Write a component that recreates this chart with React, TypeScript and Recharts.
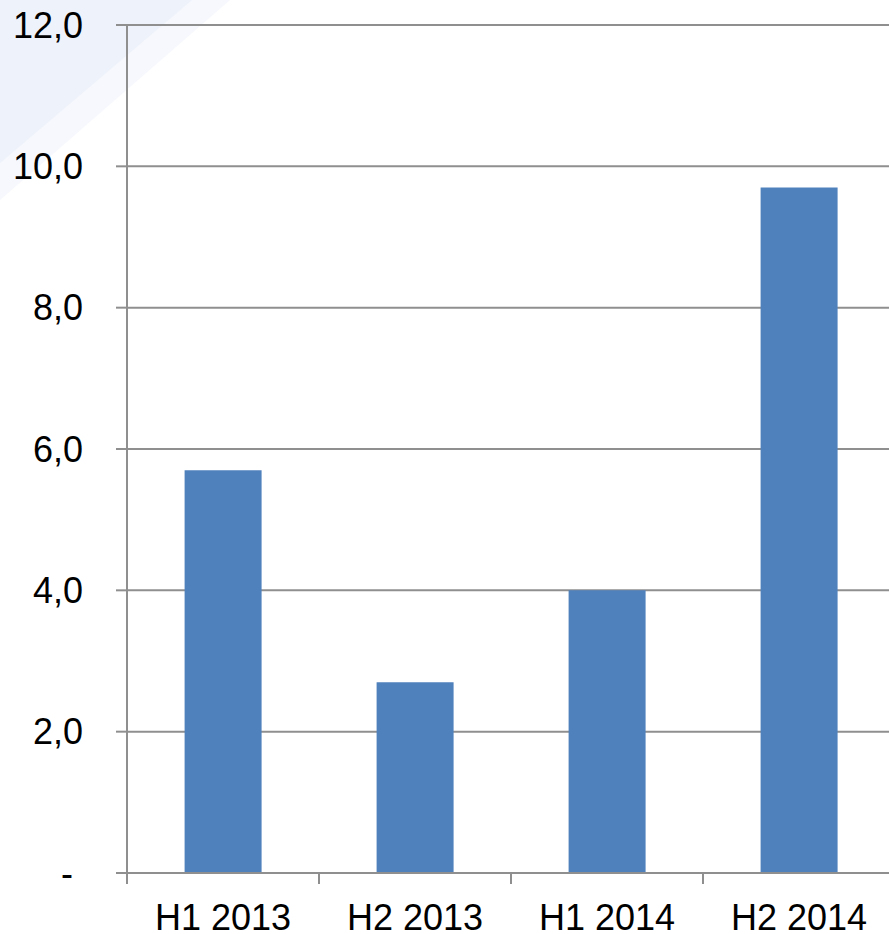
import { Bar, BarChart, CartesianGrid, XAxis, YAxis } from "recharts";

const periods = ["H1 2013", "H2 2013", "H1 2014", "H2 2014"];
const values = [5.7, 2.7, 4.0, 9.7];
const yTicks = [0, 2, 4, 6, 8, 10, 12];

const data = periods.map((period, i) => ({ period, value: values[i] }));

const FONT = "'Liberation Sans', Arial, sans-serif";
const GRID = "#8f8f8f";
const TICK_SIZE = 11;
const TICK_MARGIN = 20;

function fmt(v: number) {
  return v === 0 ? "-" : v.toFixed(1).replace(".", ",");
}

function YTick(props: any) {
  const { x, y, payload } = props;
  const v = payload.value as number;
  return (
    <text
      x={v === 0 ? x - 10 : x}
      y={y}
      dy="0.355em"
      textAnchor="end"
      fill="#000"
      fontSize={36}
      fontFamily={FONT}
    >
      {fmt(v)}
    </text>
  );
}

// Excel puts the category ticks on the boundaries, not the centres
function XTick(props: any) {
  const { x, y, payload, width } = props;
  const band = width / periods.length;
  const lx = x - band / 2;
  const top = y - TICK_MARGIN - TICK_SIZE;
  return (
    <g>
      <line x1={lx} x2={lx} y1={top} y2={top + TICK_SIZE} stroke={GRID} strokeWidth={2} />
      <text
        x={x}
        y={y}
        dy="0.71em"
        textAnchor="middle"
        fill="#000"
        fontSize={36}
        fontFamily={FONT}
      >
        {payload.value}
      </text>
    </g>
  );
}

export default function App() {
  return (
    <div
      style={{
        position: "absolute",
        left: 0,
        top: 0,
        width: 889,
        height: 934,
        overflow: "hidden",
        background: "#fff",
      }}
    >
      <svg width={889} height={934} style={{ position: "absolute", left: 0, top: 0 }}>
        <polygon points="0,0 230,0 0,200" fill="#f6f8fd" />
        <polygon points="0,0 192,0 0,163" fill="#eef2fa" />
      </svg>
      <div style={{ position: "absolute", left: 0, top: 0 }}>
        <BarChart
          width={900}
          height={934}
          data={data}
          margin={{ top: 25, right: 5, left: 0, bottom: 0 }}
          barCategoryGap="30%"
        >
          <CartesianGrid vertical={false} stroke={GRID} strokeWidth={2} />
          <XAxis
            dataKey="period"
            height={61}
            tickLine={false}
            tickSize={TICK_SIZE}
            tickMargin={TICK_MARGIN}
            axisLine={{ stroke: GRID, strokeWidth: 2 }}
            tick={<XTick />}
            interval={0}
          />
          <YAxis
            width={127}
            domain={[0, 12]}
            ticks={yTicks}
            tickSize={TICK_SIZE}
            tickMargin={33}
            tickLine={{ stroke: GRID, strokeWidth: 2 }}
            axisLine={{ stroke: GRID, strokeWidth: 2 }}
            tick={<YTick />}
          />
          <Bar dataKey="value" fill="#4f81bd" isAnimationActive={false} />
        </BarChart>
      </div>
    </div>
  );
}
